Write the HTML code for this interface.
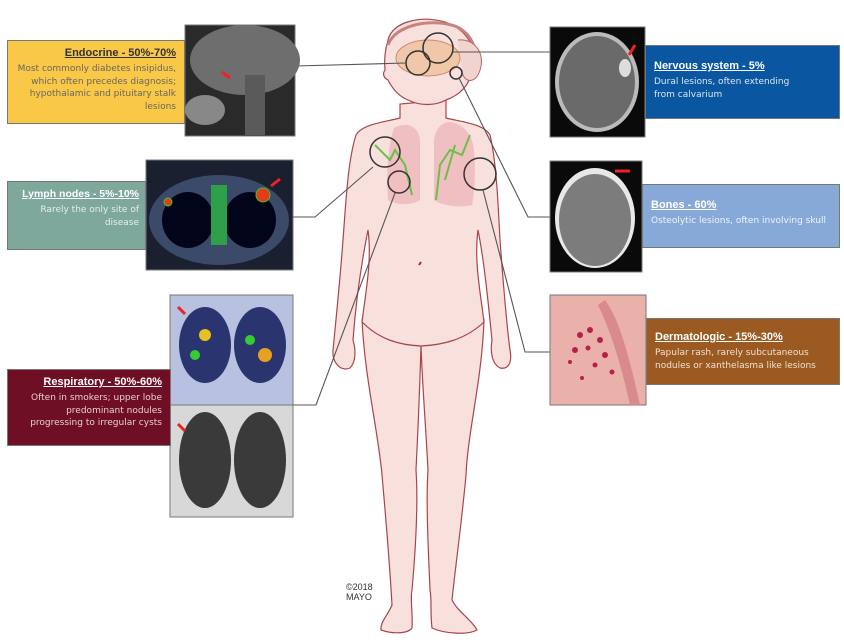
<!DOCTYPE html>
<html><head><meta charset="utf-8"><style>
body{margin:0;background:#fff;width:844px;height:643px;overflow:hidden;position:relative;font-family:"DejaVu Sans","Liberation Sans",sans-serif}
.box{position:absolute;box-sizing:border-box;padding:6px 8px;border:1px solid #777}
.t{font-weight:bold;text-decoration:underline;font-size:11px;margin-bottom:4px;font-family:"Liberation Sans",sans-serif;white-space:nowrap}
.d{font-size:9px;line-height:12.5px}
.r{text-align:right}
svg{position:absolute;left:0;top:0}
</style></head><body>
<svg width="844" height="643" viewBox="0 0 844 643">
<!-- body -->
<g fill="#f8e0dd" stroke="#a8454a" stroke-width="1.2">
<path d="M362,320 C365,380 378,430 382,475 C386,520 390,570 392,605 C388,615 380,622 381,630 C392,634 408,634 412,628 C413,612 410,600 412,590 C416,545 418,500 416,470 C418,430 420,380 421,345 Z"/>
<path d="M484,320 C482,380 468,430 466,475 C462,520 455,570 452,600 C458,612 472,620 477,630 C468,635 445,634 432,628 C430,612 432,600 430,590 C428,545 426,500 428,470 C426,430 422,380 421,345 Z"/>
<path d="M400,104 L400,118 C385,122 362,124 356,135 C348,160 346,200 343,240 C340,280 336,320 333,350 C332,362 340,372 350,368 C356,362 356,350 353,340 C356,300 362,260 368,230 C372,260 366,290 362,322 C380,340 400,345 421,346 C442,345 465,340 484,322 C480,290 474,260 478,230 C484,260 488,300 492,340 C490,352 492,364 500,368 C510,370 512,360 510,350 C506,320 503,280 500,240 C498,200 496,160 490,135 C484,124 462,122 446,118 L446,100 Z"/>
<path d="M388,40 C392,22 420,15 445,22 C468,30 478,48 472,70 C470,85 460,95 446,100 C435,106 420,106 408,100 C398,96 392,88 388,80 C384,78 382,74 385,70 C384,60 385,50 388,40 Z"/>
</g>
<path d="M388,45 C395,25 430,18 455,26 C470,32 482,50 470,72" fill="none" stroke="#c9837e" stroke-width="3"/>
<path d="M458,40 C475,38 488,55 478,75 C472,85 462,80 462,70" fill="#f1d4cf" stroke="#b76565" stroke-width="1"/>
<ellipse cx="428" cy="58" rx="32" ry="18" fill="#f0c7a8" stroke="#d08a6c"/>
<path d="M394,128 C405,122 418,124 420,140 L420,200 C410,206 396,205 388,200 C386,175 388,145 394,128 Z" fill="#eeb8bd" opacity=".85"/>
<path d="M450,122 C462,124 472,132 474,150 C476,175 474,195 472,205 C462,208 442,206 434,200 L434,140 C436,128 442,122 450,122 Z" fill="#eeb8bd" opacity=".85"/>
<path d="M375,145 L390,160 L395,150 L405,165 L412,195 M470,135 L462,155 L450,150 L440,165 L436,200 M455,145 L445,180" fill="none" stroke="#6cbf4a" stroke-width="2"/>
<path d="M421,262 l-2,3" stroke="#8a3a3a" stroke-width="2"/>
<g fill="none" stroke="#333" stroke-width="1.5">
<circle cx="438" cy="48" r="15"/>
<circle cx="418" cy="63" r="12"/>
<circle cx="456" cy="73" r="6"/>
<circle cx="385" cy="152" r="15"/>
<circle cx="399" cy="182" r="11"/>
<circle cx="480" cy="174" r="16"/>
</g>
<g fill="none" stroke="#555" stroke-width="1.1">
<path d="M295,66 L406,63"/>
<path d="M453,52 L550,52"/>
<path d="M459,78 L528,217 L550,217"/>
<path d="M373,167 L315,217 L293,217"/>
<path d="M395,193 L316,405 L293,405"/>
<path d="M483,190 L525,352 L550,352"/>
</g>
<text x="346" y="590" font-family="Liberation Sans,sans-serif" font-size="9" fill="#333">©2018</text>
<text x="346" y="600" font-family="Liberation Sans,sans-serif" font-size="9" fill="#333">MAYO</text>

<rect x="185" y="25" width="110" height="111" fill="#2a2a2a" stroke="#777"/>
<ellipse cx="245" cy="60" rx="55" ry="35" fill="#6e6e6e"/>
<rect x="245" y="75" width="20" height="60" fill="#5a5a5a"/>
<ellipse cx="205" cy="110" rx="20" ry="15" fill="#888"/>
<path d="M222,72 l8,6" stroke="#e22" stroke-width="3"/>
<rect x="146" y="160" width="147" height="110" fill="#1b2030" stroke="#777"/>
<ellipse cx="219" cy="220" rx="70" ry="45" fill="#3a4a68"/>
<ellipse cx="188" cy="220" rx="26" ry="28" fill="#02051a"/>
<ellipse cx="250" cy="220" rx="26" ry="28" fill="#02051a"/>
<rect x="211" y="185" width="16" height="60" fill="#2fa04a"/>
<circle cx="263" cy="195" r="7" fill="#e53b1a" stroke="#3c3"/>
<circle cx="168" cy="202" r="4" fill="#e53b1a" stroke="#3c3"/>
<path d="M271,186 l9,-7" stroke="#e22" stroke-width="3"/>
<rect x="170" y="295" width="123" height="110" fill="#b8c2e0" stroke="#777"/>
<ellipse cx="205" cy="345" rx="26" ry="38" fill="#2a3570"/>
<ellipse cx="260" cy="345" rx="26" ry="38" fill="#2a3570"/>
<circle cx="205" cy="335" r="6" fill="#e8c020"/><circle cx="265" cy="355" r="7" fill="#e8a020"/>
<circle cx="195" cy="355" r="5" fill="#3c3"/><circle cx="250" cy="340" r="5" fill="#3c3"/>
<path d="M178,307 l7,7" stroke="#e22" stroke-width="3"/>
<rect x="170" y="405" width="123" height="112" fill="#d8d8d8" stroke="#777"/>
<ellipse cx="205" cy="460" rx="26" ry="48" fill="#3a3a3a"/>
<ellipse cx="260" cy="460" rx="26" ry="48" fill="#3a3a3a"/>
<path d="M178,424 l7,7" stroke="#e22" stroke-width="3"/>
<rect x="550" y="27" width="95" height="110" fill="#0a0a0a" stroke="#777"/>
<ellipse cx="597" cy="82" rx="42" ry="50" fill="#bbb"/>
<ellipse cx="597" cy="82" rx="38" ry="46" fill="#6a6a6a"/>
<ellipse cx="625" cy="68" rx="6" ry="9" fill="#ddd"/>
<path d="M635,45 l-6,10" stroke="#e22" stroke-width="3"/>
<rect x="550" y="161" width="92" height="111" fill="#0a0a0a" stroke="#777"/>
<ellipse cx="595" cy="218" rx="40" ry="50" fill="#e8e8e8"/>
<ellipse cx="595" cy="220" rx="36" ry="46" fill="#7c7c7c"/>
<path d="M615,171 l15,0" stroke="#e22" stroke-width="3"/>
<rect x="550" y="295" width="96" height="110" fill="#eab1ab" stroke="#777"/>
<path d="M605,300 C620,320 630,360 640,405 L630,405 C620,360 610,330 598,305 Z" fill="#d98a8a"/>
<g fill="#b6204a"><circle cx="580" cy="335" r="3"/><circle cx="590" cy="330" r="3"/><circle cx="600" cy="340" r="3"/><circle cx="575" cy="350" r="3"/><circle cx="588" cy="348" r="2.5"/><circle cx="605" cy="355" r="3"/><circle cx="595" cy="365" r="2.5"/><circle cx="612" cy="372" r="2.5"/><circle cx="570" cy="362" r="2"/><circle cx="582" cy="378" r="2"/></g>
</svg>

<div class="box r" style="left:7px;top:40px;width:178px;height:84px;background:#f9c846;color:#333">
<div class="t">Endocrine - 50%-70%</div><div class="d" style="color:#666">Most commonly diabetes insipidus, which often precedes diagnosis; hypothalamic and pituitary stalk lesions</div></div>
<div class="box r" style="left:7px;top:181px;width:139px;height:69px;background:#7fa89c;color:#fff;padding-right:6px">
<div class="t" style="font-size:10.5px">Lymph nodes - 5%-10%</div><div class="d" style="color:#e4eeea">Rarely the only site of disease</div></div>
<div class="box r" style="left:7px;top:369px;width:164px;height:77px;background:#6e0f26;color:#fff">
<div class="t">Respiratory - 50%-60%</div><div class="d" style="color:#e8cfd4">Often in smokers; upper lobe predominant nodules progressing to irregular cysts</div></div>
<div class="box" style="left:645px;top:45px;width:195px;height:74px;background:#0a56a0;color:#fff;padding-top:14px">
<div class="t">Nervous system - 5%</div><div class="d" style="color:#dbe6f3">Dural lesions, often extending<br>from calvarium</div></div>
<div class="box" style="left:642px;top:184px;width:198px;height:64px;background:#87a9d8;color:#fff;padding-top:14px">
<div class="t">Bones - 60%</div><div class="d" style="color:#eef3fa">Osteolytic lesions, often involving skull</div></div>
<div class="box" style="left:646px;top:318px;width:194px;height:67px;background:#9a5a22;color:#fff;padding-top:12px">
<div class="t">Dermatologic - 15%-30%</div><div class="d" style="color:#f1e1d3">Papular rash, rarely subcutaneous nodules or xanthelasma like lesions</div></div>
</body></html>
